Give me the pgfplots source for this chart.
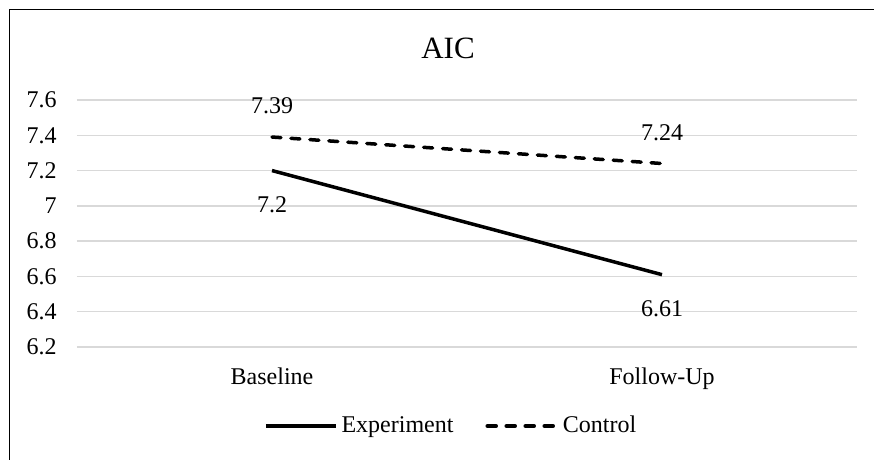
\documentclass[border=0pt]{standalone}
\usepackage{pgfplots}
\pgfplotsset{compat=1.18}
\usepackage{fontspec}
\setmainfont{Liberation Serif}
\definecolor{gridgray}{HTML}{D9D9D9}
\begin{document}
\begin{tikzpicture}
\useasboundingbox (-38.5pt,-56.5pt) rectangle (398.5pt,173.5pt);
\draw[line width=0.75pt, black] (-33.75pt,-57pt) -- (-33.75pt,168.75pt) -- (399pt,168.75pt);
\begin{axis}[
  at={(0,0)}, anchor=south west,
  scale only axis,
  width=390pt, height=123.5pt,
  xmin=-0.5, xmax=1.5,
  ymin=6.2, ymax=7.6,
  xtick={0,1}, xticklabels={Baseline,Follow-Up},
  ytick={6.2,6.4,6.6,6.8,7,7.2,7.4,7.6},
  yticklabels={6.2,6.4,6.6,6.8,7,7.2,7.4,7.6},
  major tick length=0pt,
  axis line style={draw=none},
  ymajorgrids,
  grid style={gridgray, line width=0.75pt},
  ticklabel style={font=\fontsize{12pt}{14pt}\selectfont},
  yticklabel style={anchor=east, inner sep=0pt, xshift=-10pt},
  xticklabel style={anchor=base, inner sep=0pt, yshift=-19pt},
  clip=false,
  legend columns=2,
  legend style={draw=none, fill=none, font=\fontsize{12pt}{14pt}\selectfont,
    at={(axis description cs:0.481,-0.32)}, anchor=center,
    /tikz/every even column/.append style={column sep=14pt},
    inner sep=0pt, cells={anchor=west}},
  legend image code/.code={\draw[#1] (0pt,0pt) -- (35pt,0pt);},
]
\addplot[black, line width=1.75pt, nodes near coords,
  every node near coord/.append style={font=\fontsize{12pt}{14pt}\selectfont, anchor=center, yshift=-17pt, text=black},
  point meta=explicit symbolic]
  coordinates {(0,7.2) [7.2] (1,6.61) [6.61]};
\addlegendentry{Experiment}
\addplot[black, line width=1.75pt, line cap=round, dash pattern=on 4.5pt off 5pt, nodes near coords,
  every node near coord/.append style={font=\fontsize{12pt}{14pt}\selectfont, anchor=center, yshift=15.5pt, text=black},
  point meta=explicit symbolic]
  coordinates {(0,7.39) [7.39] (1,7.24) [7.24]};
\addlegendentry{Control}
\end{axis}
\node[anchor=base, inner sep=0pt, font=\fontsize{15.5pt}{18pt}\selectfont] at (185.5pt,144pt) {AIC};
\end{tikzpicture}
\end{document}
